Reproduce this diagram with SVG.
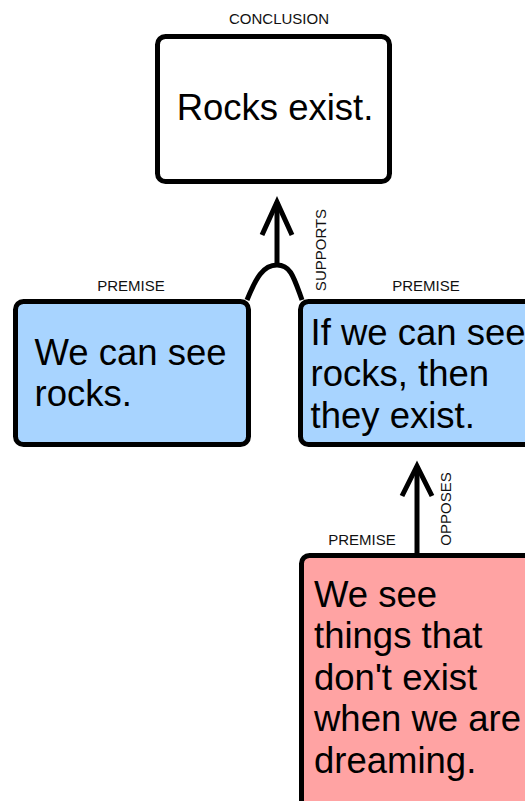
<svg xmlns="http://www.w3.org/2000/svg" width="525" height="801" viewBox="0 0 525 801">
  <style>
    .box { stroke: #000; stroke-width: 5; }
    .conclusion { fill: #ffffff; }
    .premise { fill: #a8d4ff; }
    .objection { fill: #ffa3a3; }
    .claim { font-family: "Liberation Sans", Arial, sans-serif; font-size: 36.5px; fill: #000; }
    .tag { font-family: "Liberation Sans", Arial, sans-serif; font-size: 15px; fill: #111; }
    .link { fill: none; stroke: #000; stroke-width: 5; stroke-linecap: butt; stroke-linejoin: miter; }
  </style>

  <!-- conclusion -->
  <g id="conclusion">
    <text class="tag" x="279" y="24" text-anchor="middle">CONCLUSION</text>
    <rect class="box conclusion" x="157.5" y="36.5" width="232" height="145" rx="8"/>
    <text class="claim" x="275" y="120" text-anchor="middle">Rocks exist.</text>
  </g>

  <!-- first premise -->
  <g id="premise-see">
    <text class="tag" x="131" y="291" text-anchor="middle">PREMISE</text>
    <rect class="box premise" x="15.5" y="301.5" width="233" height="143" rx="8"/>
    <text class="claim" x="34.5" y="365">We can see</text>
    <text class="claim" x="34.5" y="406">rocks.</text>
  </g>

  <!-- second premise -->
  <g id="premise-conditional">
    <text class="tag" x="426" y="291" text-anchor="middle">PREMISE</text>
    <rect class="box premise" x="300.5" y="301.5" width="240" height="143" rx="8"/>
    <text class="claim" x="310.5" y="345">If we can see</text>
    <text class="claim" x="310.5" y="386">rocks, then</text>
    <text class="claim" x="310.5" y="428">they exist.</text>
  </g>

  <!-- objection -->
  <g id="premise-dreaming">
    <text class="tag" x="362" y="545" text-anchor="middle">PREMISE</text>
    <rect class="box objection" x="301.5" y="555.5" width="240" height="270" rx="8"/>
    <text class="claim" x="314" y="607">We see</text>
    <text class="claim" x="314" y="648">things that</text>
    <text class="claim" x="314" y="690">don't exist</text>
    <text class="claim" x="314" y="731">when we are</text>
    <text class="claim" x="314" y="773">dreaming.</text>
  </g>

  <!-- connectors -->
  <g id="connectors">
    <g id="supports">
      <path class="link" d="M247,300 C256,278 263,265 277,265 C291,265 294,278 302,300"/>
      <path class="link" d="M277,265 V202"/>
      <path class="link" d="M262,235 L277,202 L292,235"/>
      <text class="tag" transform="translate(326,250) rotate(-90)" text-anchor="middle">SUPPORTS</text>
    </g>
    <g id="opposes">
      <path class="link" d="M417,553 V466"/>
      <path class="link" d="M402,496 L417,466 L432,496"/>
      <text class="tag" transform="translate(451,509) rotate(-90)" text-anchor="middle">OPPOSES</text>
    </g>
  </g>
</svg>
